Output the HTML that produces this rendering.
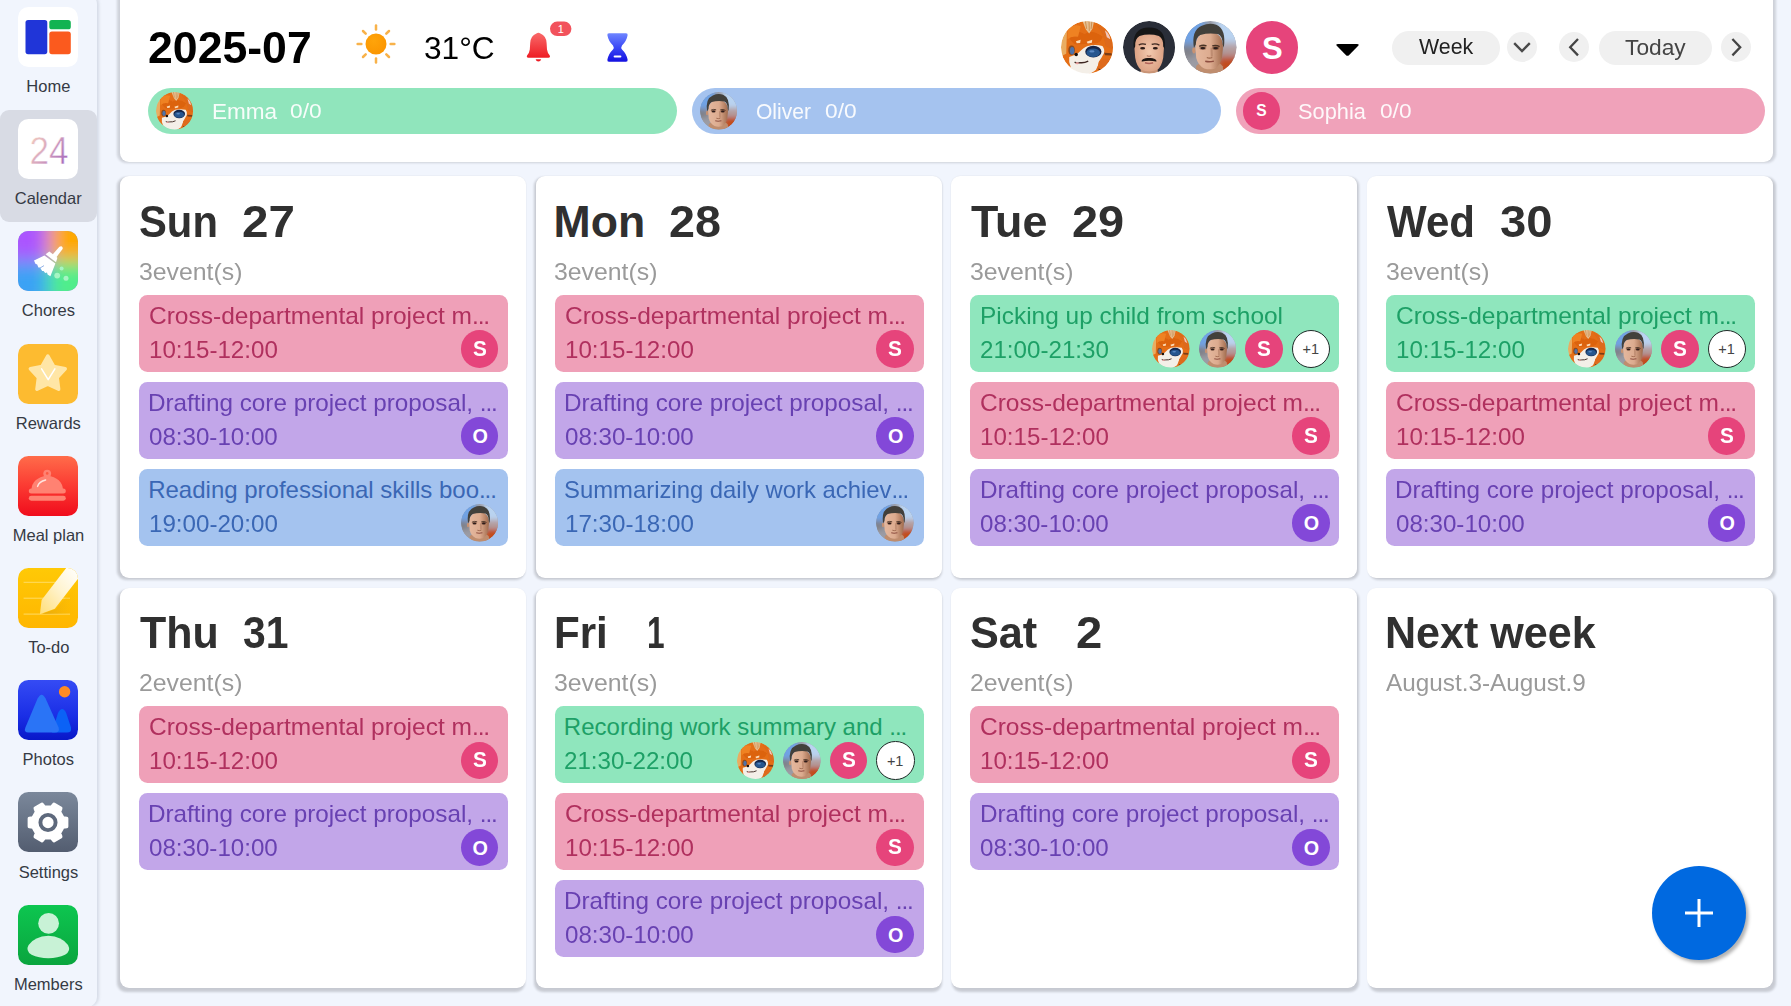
<!DOCTYPE html>
<html lang="en"><head><meta charset="utf-8"><title>Calendar</title>
<style>
html,body{margin:0;padding:0}
body{width:1791px;height:1006px;overflow:hidden;background:#f1f5fd;position:relative;font-family:"Liberation Sans",sans-serif}
.t{position:absolute;white-space:pre;transform-origin:0 0;display:block}
.abs,.av,.circ,.pill,.card,.ev,.bar,.ico,.side,.sel,.fab{position:absolute}
.side{left:-10px;top:-6px;width:107px;height:1013px;border-radius:0 10px 10px 0;background:#f1f5fd;box-shadow:1.5px 0 3px rgba(60,70,100,.14)}
.sel{left:0;top:109.7px;width:96.6px;height:112.4px;border-radius:9px;background:#d8dbe4}
.ico{left:18.3px;width:60px;height:60px;border-radius:10.5px;overflow:hidden}
.ico svg{display:block;width:60px;height:60px}
.card{background:#fff;border-radius:9px;box-shadow:0 0 1.5px rgba(20,20,40,.05)}
.sh{position:absolute;background:rgba(10,10,15,.175);filter:blur(1.3px)}
.av,.circ{border-radius:50%}
.pill{background:#f0f0f0;border-radius:17px}
.bar{top:87.8px;width:529px;height:46.4px;border-radius:23.2px}
.ev{width:369px;height:77px;border-radius:8.5px}
.fab{left:1652px;top:866px;width:94px;height:94px;border-radius:50%;background:#0069e0;box-shadow:2.5px 3px 3.5px rgba(0,0,0,.3)}

</style></head>
<body>
<svg width="0" height="0" style="position:absolute">
<defs>
<clipPath id="cc"><circle cx="20" cy="20" r="20"/></clipPath>
<radialGradient id="skin1" cx="50%" cy="45%" r="60%"><stop offset="0" stop-color="#f3c9ae"/><stop offset="1" stop-color="#d79a7c"/></radialGradient>
<linearGradient id="skin2" x1="0" x2="1" y1="0" y2="0"><stop offset="0" stop-color="#e5b89e"/><stop offset=".55" stop-color="#dcab8f"/><stop offset="1" stop-color="#a06a4c"/></linearGradient>
<linearGradient id="bg2" x1="0" x2="1" y1="0" y2="1"><stop offset="0" stop-color="#8fb0e0"/><stop offset=".45" stop-color="#a4a9b4"/><stop offset=".75" stop-color="#a8705a"/><stop offset="1" stop-color="#c4562a"/></linearGradient>
<filter id="b05" x="-10%" y="-10%" width="120%" height="120%"><feGaussianBlur stdDeviation=".45"/></filter>
<filter id="b3" x="-30%" y="-30%" width="160%" height="160%"><feGaussianBlur stdDeviation="3"/></filter>
<filter id="b1" x="-30%" y="-30%" width="160%" height="160%"><feGaussianBlur stdDeviation="1.1"/></filter>
<symbol id="fox" viewBox="0 0 40 40">
 <g clip-path="url(#cc)"><g filter="url(#b05)">
 <rect x="-2" y="-2" width="44" height="44" fill="#e46e16"/>
 <path d="M6 12 Q12 6 18 10 Q24 6 32 12 Q30 17 26 17 L12 18 Q8 17 6 12Z" fill="#d9600f" opacity=".8"/>
 <path d="M0 9 L4.5 8 L4 25 L0 27Z" fill="#e9ad62"/>
 <path d="M5 6 Q10 2 15 4 L13 12 Q8 11 5 14Z" fill="#ef8224"/>
 <path d="M16 -1 L25.5 -1 L24 6 L21.5 9.5 L19 6.5Z" fill="#e6bf92"/>
 <path d="M18.6 0 L19.6 6 M21.4 0 L21.6 7.5 M23.6 0 L23 6" stroke="#c98a4a" stroke-width=".7" fill="none"/>
 <path d="M27 3 Q34 5 38 13 L40 22 L34 19 Q33 10 27 3Z" fill="#dd6a1a"/>
 <path d="M33.5 7 Q37 9.5 37.6 14 L35 12.5Z" fill="#f1c7bc"/>
 <path d="M6.3 27.4 Q10 26.6 13.4 24.2 Q17 20.2 20.4 19 Q26 17.6 31.6 19 Q33.6 21.5 32.8 24.6 Q31 28 29 31 Q28.4 34.6 26.6 37.4 Q22.5 41 18 40.6 Q11 39.4 7.6 35.6 Q5.6 31.6 6.3 27.4Z" fill="#f4efe8"/>
 <path d="M29 31 Q33 28 37.6 29 Q38 34 34.4 37.4 Q30.6 38.4 27.4 36.4 Q28.6 34 29 31Z" fill="#de6a1c"/>
 <path d="M33 24.2 L38.6 24.6 L38.8 26.4 L33.6 26.2Z" fill="#7a3c14"/>
 <path d="M28.6 36.6 L32 38.2" stroke="#5a3016" stroke-width=".8"/>
 <ellipse cx="24.7" cy="23.4" rx="6.2" ry="4.5" fill="#16254a"/>
 <ellipse cx="24.6" cy="24.2" rx="5.2" ry="3.2" fill="#25578f"/>
 <ellipse cx="23.6" cy="23.2" rx="2" ry=".8" fill="#5c8ac6"/>
 <ellipse cx="8.1" cy="22.4" rx="2.5" ry="3.6" fill="#8a4a1e"/>
 <ellipse cx="8.5" cy="22.7" rx="1.7" ry="2.8" fill="#5072a8"/>
 <path d="M11.4 15.4 L15 14.4 L14.6 16.8 L12 17Z M19.6 15.8 L23.8 14.4 L23.6 16.6 L20.4 17.2Z" fill="#fddcb6"/>
 <circle cx="11.6" cy="25.5" r="1.35" fill="#17100e"/>
 <path d="M10.4 31.4 Q12.4 32.6 14.6 31.8 Q17.6 32.2 20.8 30.6" fill="none" stroke="#3c2620" stroke-width="1"/>
 <ellipse cx="12.4" cy="32.3" rx="1.3" ry=".8" fill="#e79a98"/>
 </g></g>
</symbol>
<symbol id="man1" viewBox="0 0 40 40">
 <g clip-path="url(#cc)"><g filter="url(#b05)">
 <rect x="-2" y="-2" width="44" height="44" fill="#2c2f38"/>
 <path d="M8.7 20 Q8.7 8.6 20 8.6 Q31.3 8.6 31.3 20 L30.7 28 Q29.6 34.6 26 37.6 L27 42 L13 42 L14 37.6 Q10.4 34.6 9.3 28Z" fill="url(#skin1)"/>
 <path d="M13.6 37.2 Q20 40 26.4 37.2 L27 42 L13 42Z" fill="#c99476"/>
 <path d="M8.2 21.4 Q6.4 5 20 5 Q33.6 5 31.8 21.4 L30.7 19.4 Q31 13.4 27.4 11.4 Q20 9.4 12.6 11.4 Q9 13.4 9.3 19.4Z" fill="#131519"/>
 <path d="M12 18.4 Q14.6 16.7 17.5 17.9 M21.9 17.9 Q24.8 16.7 27.8 18.4" stroke="#3a2620" stroke-width=".95" fill="none"/>
 <ellipse cx="15" cy="20.8" rx="1.9" ry=".95" fill="#2a1a16"/>
 <ellipse cx="24.7" cy="20.8" rx="1.9" ry=".95" fill="#2a1a16"/>
 <path d="M18.2 26.4 Q19.9 27.6 21.6 26.4" stroke="#b9806a" stroke-width="1" fill="none"/>
 <path d="M14.6 30.6 Q15.6 28.5 19.9 28.7 Q24.2 28.5 25.2 30.6 Q22.4 29.8 19.9 29.9 Q17.4 29.8 14.6 30.6Z" fill="#1c1412" stroke="#1c1412" stroke-width=".8" stroke-linejoin="round"/>
 <path d="M16.8 31.9 Q19.9 33 23 31.9" stroke="#b0645a" stroke-width="1.1" fill="none"/>
 </g></g>
</symbol>
<symbol id="man2" viewBox="0 0 40 40">
 <g clip-path="url(#cc)">
 <rect x="-2" y="-2" width="44" height="44" fill="#9a9aa2"/>
 <g filter="url(#b3)"><rect x="-6" y="-6" width="22" height="24" fill="#6fa2e4"/><rect x="24" y="-6" width="22" height="24" fill="#b9d3f0"/><rect x="28" y="17" width="16" height="9" fill="#b59c9c"/><rect x="-4" y="18" width="12" height="10" fill="#7f8088"/><rect x="26" y="27" width="20" height="18" fill="#c24c1c"/><rect x="-6" y="28" width="16" height="18" fill="#9c9ca4"/></g>
 <g filter="url(#b05)">
 <path d="M9.5 34 Q13 31 20 31 Q27 31 29.5 34.5 L31 42 L8 42Z" fill="#bf8d6e"/>
 <ellipse cx="7.6" cy="22.4" rx="1.3" ry="2.4" fill="#c89272"/>
 <path d="M8.7 21 Q8.4 8.6 19.4 8.6 Q30 8.6 29.7 21 L29 28 Q27.6 34 23.4 36.4 Q19.4 37.4 15.4 36.2 Q10.6 33.6 9.3 28Z" fill="url(#skin2)"/>
 <path d="M7.6 20.6 Q5.4 7 13.6 3.6 Q19 1.2 24.6 2.8 Q32.4 6 30.4 20.4 L29.5 18 Q29.6 11.8 26 10 Q19 8.8 12.4 10.6 Q9 12.6 9 18Z" fill="#433f3a"/>
 <path d="M11.6 19.4 Q14.4 17.9 17.2 19 M21.6 19 Q24.4 17.9 27.2 19.6" stroke="#4a3428" stroke-width="1" fill="none"/>
 <ellipse cx="14.4" cy="20.6" rx="2.6" ry="1.5" fill="#7a4a36" opacity=".55"/><ellipse cx="14.4" cy="20.7" rx="1.8" ry=".9" fill="#2e1f1a"/>
 <ellipse cx="24.2" cy="20.6" rx="2.6" ry="1.5" fill="#6a3e2c" opacity=".6"/><ellipse cx="24.2" cy="20.7" rx="1.8" ry=".9" fill="#2e1f1a"/>
 <path d="M21 20.4 L21.2 27.2" stroke="#8a583e" stroke-width="1.6" fill="none" opacity=".32"/>
 <path d="M17.4 27.9 Q19.4 28.8 21.6 27.9" stroke="#9a644a" stroke-width=".9" fill="none"/>
 <path d="M16.2 30.7 Q19.4 31.5 22.8 30.6" stroke="#8e4e40" stroke-width="1.1" fill="none"/>
 </g></g>
</symbol>
</defs>
</svg>
<div class="side"></div>
<div class="sel"></div>
<div class="ico i0" style="top:7.0px"><svg viewBox="0 0 60 60"><rect width="60" height="60" fill="#fff"/><rect x="7.5" y="13.1" width="21.8" height="34.1" rx="2.6" fill="#2035d8"/><rect x="31.3" y="13.1" width="21.5" height="9.2" rx="2.6" fill="#12b352"/><rect x="31.3" y="24.6" width="21.5" height="22.6" rx="2.6" fill="#fb5a1e"/></svg></div>
<span class="t" style="left:26.35px;top:78.00px;font-size:16.5px;line-height:16.5px;color:#353a44;">Home</span>
<div class="ico i1" style="top:119.2px"><svg viewBox="0 0 60 60"><defs><linearGradient id="g24" x1="0" x2="1" y1="0" y2=".75"><stop offset="0" stop-color="#f8d4c0"/><stop offset=".5" stop-color="#d9a8be"/><stop offset="1" stop-color="#a364bc"/></linearGradient></defs><rect width="60" height="60" fill="#fff"/><text x="31" y="44.6" text-anchor="middle" font-family="Liberation Sans, sans-serif" font-size="38" fill="url(#g24)" stroke="#fff" stroke-width=".5" textLength="39" lengthAdjust="spacingAndGlyphs">24</text></svg></div>
<span class="t" style="left:14.75px;top:190.00px;font-size:16.5px;line-height:16.5px;color:#353a44;">Calendar</span>
<div class="ico i2" style="top:231.4px"><svg viewBox="0 0 60 60"><defs><filter id="bl" x="-20%" y="-20%" width="140%" height="140%"><feGaussianBlur stdDeviation="9"/></filter><clipPath id="cq"><rect width="60" height="60"/></clipPath></defs>
<g clip-path="url(#cq)"><rect width="60" height="60" fill="#8a9ad0"/><g filter="url(#bl)"><rect x="-15" y="-15" width="45" height="45" fill="#ab55ff"/><rect x="30" y="-15" width="45" height="45" fill="#ffa800"/><rect x="30" y="30" width="45" height="45" fill="#50ee8a"/><rect x="-15" y="30" width="45" height="45" fill="#3aa2f5"/></g></g>
<g fill="#fff"><path d="M41.4 15.8 Q43.6 14.4 44.6 16.4 Q45 17.6 44.2 18.6 L38.2 26.4 L34.6 23.6Z"/><path d="M27.6 23.2 L31.4 20.6 L39.4 26.8 L38 31.2Z"/><path d="M26.4 24.4 L37.4 32.6 L32.4 45.2 L29.6 43.6 L29 41.6 L27.2 42 L25.6 40 L24.2 40 L22 36.6 L20.4 36.4 L19.2 33.6 L17.4 32.8 L16 29.4 Z"/></g>
<path d="M22 37 L26 34.6" stroke="#7aa0e0" stroke-width=".8"/>
<g fill="#a6f5c4"><circle cx="43.6" cy="37.4" r="2"/><circle cx="39.2" cy="44.6" r="2.9"/><circle cx="48" cy="47.2" r="2.5"/></g></svg></div>
<span class="t" style="left:21.80px;top:302.00px;font-size:16.5px;line-height:16.5px;color:#353a44;">Chores</span>
<div class="ico i3" style="top:343.6px"><svg viewBox="0 0 60 60"><rect width="60" height="60" fill="#fdbb30"/><path d="M29.8 12.1 L35.6 22.5 L47.2 24.7 L39.1 33.4 L40.6 45.2 L29.8 40.2 L19.0 45.2 L20.5 33.4 L12.4 24.7 L24.0 22.5Z" fill="#ffe6a6" stroke="#ffe6a6" stroke-width="3.6" stroke-linejoin="round"/><path d="M23.6 24.8 L30.2 35.6 L36.9 24.8" fill="none" stroke="#fff" stroke-width="1.5" stroke-linecap="round" stroke-linejoin="round"/></svg></div>
<span class="t" style="left:15.73px;top:415.00px;font-size:16.5px;line-height:16.5px;color:#353a44;">Rewards</span>
<div class="ico i4" style="top:455.8px"><svg viewBox="0 0 60 60"><defs><linearGradient id="gm" x1="0" x2="0" y1="0" y2="1"><stop offset="0" stop-color="#ff6c4a"/><stop offset=".5" stop-color="#fb3a32"/><stop offset="1" stop-color="#f00c1c"/></linearGradient></defs><rect width="60" height="60" fill="url(#gm)"/>
<g fill="#ff8272"><circle cx="29.2" cy="17.6" r="3.9"/><path d="M13.4 34 Q14 22 29.2 19.6 Q44.4 22 45 34Z"/><rect x="10.8" y="32.6" width="37" height="5" rx="2.5"/><rect x="10.8" y="39.8" width="37" height="4.9" rx="2.45"/></g><circle cx="29.2" cy="17.4" r="1.3" fill="#fc5a42"/>
<path d="M19.6 30.4 Q21 25.6 27.6 24" fill="none" stroke="#ffe4de" stroke-width="1.5" stroke-linecap="round"/></svg></div>
<span class="t" style="left:12.74px;top:527.00px;font-size:16.5px;line-height:16.5px;color:#353a44;">Meal plan</span>
<div class="ico i5" style="top:568.0px"><svg viewBox="0 0 60 60"><defs><linearGradient id="gt" x1="0" x2="0" y1="0" y2="1"><stop offset="0" stop-color="#ffc906"/><stop offset="1" stop-color="#ffb600"/></linearGradient><linearGradient id="gp" x1="1" x2="0" y1="0" y2="1"><stop offset="0" stop-color="#ffffff"/><stop offset=".45" stop-color="#fff4d2"/><stop offset="1" stop-color="#ffde78"/></linearGradient><linearGradient id="gs" x1="0" x2="1" y1="0" y2="0"><stop offset="0" stop-color="#dda412"/><stop offset="1" stop-color="#f5b400" stop-opacity="0"/></linearGradient></defs>
<rect width="60" height="60" fill="url(#gt)"/><path d="M5.6 14.3 H52 M5.6 30.2 H52 M5.6 46.1 H52" stroke="#ffe27c" stroke-width=".8"/>
<path d="M24 46 L38 41 L58 18 L58 46 Z" fill="url(#gs)" opacity=".75"/>
<path d="M21.9 46.3 L23.6 32 L48.2 0 L60 0 L60 10.8 L36.8 40.8 Z" fill="url(#gp)"/></svg></div>
<span class="t" style="left:28.19px;top:639.00px;font-size:16.5px;line-height:16.5px;color:#353a44;">To-do</span>
<div class="ico i6" style="top:680.2px"><svg viewBox="0 0 60 60"><defs><linearGradient id="gph" x1="0" x2="0" y1="0" y2="1"><stop offset="0" stop-color="#354bf4"/><stop offset=".6" stop-color="#1a2ee6"/><stop offset="1" stop-color="#0818c8"/></linearGradient></defs><rect width="60" height="60" fill="url(#gph)"/>
<circle cx="46.6" cy="11.7" r="5.7" fill="#ff8b22"/>
<path d="M40 33 Q44.2 25 48.2 33 L53 47.4 Q53.8 52.6 49 52.6 L34 52.6Z" fill="#0b62f6"/>
<path d="M19.6 18.6 Q23.6 11 27.6 18.6 L40.6 47.6 Q42 52.6 37 52.6 L10.6 52.6 Q5.4 52.6 7.4 47.6Z" fill="#2a74f6"/></svg></div>
<span class="t" style="left:22.61px;top:751.00px;font-size:16.5px;line-height:16.5px;color:#353a44;">Photos</span>
<div class="ico i7" style="top:792.4px"><svg viewBox="0 0 60 60"><defs><linearGradient id="gse" x1="0" x2="0" y1="0" y2="1"><stop offset="0" stop-color="#7b889b"/><stop offset="1" stop-color="#535d70"/></linearGradient></defs><rect width="60" height="60" fill="url(#gse)"/>
<path d="M44.89 25.83 L48.68 26.53 L48.68 34.47 L44.89 35.17 L41.48 41.06 L42.78 44.69 L35.90 48.67 L33.40 45.72 L26.60 45.72 L24.10 48.67 L17.22 44.69 L18.52 41.06 L15.11 35.17 L11.32 34.47 L11.32 26.53 L15.11 25.83 L18.52 19.94 L17.22 16.31 L24.10 12.33 L26.60 15.28 L33.40 15.28 L35.90 12.33 L42.78 16.31 L41.48 19.94Z" fill="#fff" stroke="#fff" stroke-width="3.4" stroke-linejoin="round"/><circle cx="30" cy="30.5" r="7.6" fill="none" stroke="#5e697c" stroke-width="3.9"/></svg></div>
<span class="t" style="left:18.65px;top:864.00px;font-size:16.5px;line-height:16.5px;color:#353a44;">Settings</span>
<div class="ico i8" style="top:904.6px"><svg viewBox="0 0 60 60"><defs><linearGradient id="gme" x1="0" x2="0" y1="0" y2="1"><stop offset="0" stop-color="#0dc650"/><stop offset="1" stop-color="#0aa53e"/></linearGradient></defs><rect width="60" height="60" fill="url(#gme)"/>
<circle cx="30.6" cy="18.4" r="10.4" fill="#c8f2d6"/><path d="M30.3 30.8 Q44 31.5 50 40 Q53.4 46 47 49.8 Q40 53.2 30.3 53.2 Q20.6 53.2 13.6 49.8 Q7.2 46 10.6 40 Q16.6 31.5 30.3 30.8Z" fill="#c8f2d6"/></svg></div>
<span class="t" style="left:13.91px;top:976.00px;font-size:16.5px;line-height:16.5px;color:#353a44;">Members</span>
<div class="sh" style="left:117.21px;top:-14.05px;width:1659.25px;height:176.63px;border-radius:9px;background:rgba(10,10,15,.14)"></div>
<div class="card" style="left:120.00px;top:-14.00px;width:1653.30px;height:176.00px;border-radius:9px"></div>
<span class="t" style="left:147.94px;top:26.00px;font-size:44px;line-height:44px;color:#000;font-weight:700;transform:scaleX(1.0140);">2025-07</span>
<svg class="abs" style="left:354px;top:22px;width:44px;height:44px" viewBox="-22 -22 44 44"><defs><radialGradient id="gsu" cx="40%" cy="35%" r="70%"><stop offset="0" stop-color="#ffa40a"/><stop offset="1" stop-color="#fb9500"/></radialGradient></defs><circle r="10.5" fill="url(#gsu)"/><g stroke="#f8b24a" stroke-width="2.5" stroke-linecap="round"><path d="M0 -14.6 V-18.4"/><path d="M0 14.6 V18.4"/><path d="M-14.6 0 H-18.4"/><path d="M14.6 0 H18.4"/><path d="M10.3 -10.3 L13 -13"/><path d="M-10.3 -10.3 L-13 -13"/><path d="M10.3 10.3 L13 13"/><path d="M-10.3 10.3 L-13 13"/></g></svg>
<span class="t" style="left:423.50px;top:33.00px;font-size:31px;line-height:31px;color:#000;transform:scaleX(1.0207);">31°C</span>
<svg class="abs" style="left:522px;top:18px;width:54px;height:48px" viewBox="0 0 54 48"><defs><linearGradient id="gbe" x1="0" x2="0" y1="0" y2="1"><stop offset="0" stop-color="#f96a6a"/><stop offset="1" stop-color="#ee1c24"/></linearGradient></defs>
<path d="M14.4 15.6 Q16.4 14 18.4 15.6 Q24.2 18 24.6 25 L25 31.6 Q25.4 34.8 27.6 37.2 Q28.8 39.6 26.4 39.8 L6.4 39.8 Q4 39.6 5.2 37.2 Q7.4 34.8 7.8 31.6 L8.2 25 Q8.6 18 14.4 15.6Z" fill="url(#gbe)"/><path d="M13.6 41.2 H19.2 Q18.6 43.6 16.4 43.6 Q14.2 43.6 13.6 41.2Z" fill="#ec1c24"/>
<rect x="28" y="3.6" width="21.4" height="14.4" rx="7.2" fill="#f2525c"/><text x="38.8" y="14.6" text-anchor="middle" font-family="Liberation Sans, sans-serif" font-size="11" fill="#fff">1</text></svg>
<svg class="abs" style="left:603px;top:30px;width:30px;height:36px" viewBox="0 0 30 36"><defs><linearGradient id="gho" x1="0" x2="0" y1="0" y2="1"><stop offset="0" stop-color="#6f86ff"/><stop offset=".5" stop-color="#3a48f6"/><stop offset="1" stop-color="#1410e0"/></linearGradient></defs>
<path d="M6 3.2 H23 Q25 3.2 24.6 5.2 Q23.6 11 19 15.4 Q17.6 17.4 19 19.4 Q23.6 23.8 24.6 29.6 Q25 31.8 23 31.8 H6 Q4 31.8 4.4 29.6 Q5.4 23.8 10 19.4 Q11.4 17.4 10 15.4 Q5.4 11 4.4 5.2 Q4 3.2 6 3.2Z" fill="url(#gho)"/><rect x="10.6" y="25.6" width="7.8" height="2" rx="1" fill="#fff"/></svg>
<svg class="av" style="left:1060.8px;top:21.3px;width:52.4px;height:52.4px" viewBox="0 0 40 40"><use href="#fox"/></svg>
<svg class="av" style="left:1122.8px;top:21.3px;width:52.4px;height:52.4px" viewBox="0 0 40 40"><use href="#man1"/></svg>
<svg class="av" style="left:1184.3px;top:21.3px;width:52.4px;height:52.4px" viewBox="0 0 40 40"><use href="#man2"/></svg>
<div class="circ" style="left:1246.0px;top:21.3px;width:52.4px;height:52.4px;background:#e6447b"></div>
<span class="t" style="left:1261.93px;top:33.00px;font-size:31px;line-height:31px;color:#fff;font-weight:700;">S</span>
<svg class="abs" style="left:1335px;top:43px;width:25px;height:15px" viewBox="0 0 25 15"><path d="M3 1 H22 Q24.8 1 23 3 L14.2 12 Q12.5 13.7 10.8 12 L2 3 Q0.2 1 3 1Z" fill="#000"/></svg>
<div class="pill" style="left:1392px;top:30.6px;width:108px;height:34px"></div>
<span class="t" style="left:1419.14px;top:36.00px;font-size:22px;line-height:22px;color:#222;transform:scaleX(0.9721);">Week</span>
<div class="pill" style="left:1507px;top:32.3px;width:30px;height:30px"></div>
<svg class="abs" style="left:1507px;top:32.3px;width:30px;height:30px" viewBox="0 0 30 30"><path d="M7.2 11.2 L15 19 L22.8 11.2" fill="none" stroke="#4a4a4a" stroke-width="2.4"/></svg>
<div class="pill" style="left:1559.3px;top:32.3px;width:30px;height:30px"></div>
<svg class="abs" style="left:1559.3px;top:32.3px;width:30px;height:30px" viewBox="0 0 30 30"><path d="M19 7 L11.2 15.2 L19 23.4" fill="none" stroke="#444" stroke-width="2.3"/></svg>
<div class="pill" style="left:1599px;top:30.6px;width:113px;height:34px"></div>
<span class="t" style="left:1625.27px;top:37.00px;font-size:22px;line-height:22px;color:#444;transform:scaleX(1.0345);">Today</span>
<div class="pill" style="left:1720.5px;top:32.3px;width:30px;height:30px"></div>
<svg class="abs" style="left:1720.5px;top:32.3px;width:30px;height:30px" viewBox="0 0 30 30"><path d="M11.4 7 L19.2 15.2 L11.4 23.4" fill="none" stroke="#444" stroke-width="2.3"/></svg>
<div class="bar" style="left:148.0px;background:#90e5bc"></div>
<svg class="av" style="left:155.7px;top:92.3px;width:37.6px;height:37.6px" viewBox="0 0 40 40"><use href="#fox"/></svg>
<span class="t" style="left:211.64px;top:101.00px;font-size:22px;line-height:22px;color:#fff;transform:scaleX(1.0247);opacity:.93">Emma</span>
<span class="t" style="left:289.97px;top:101.00px;font-size:20.5px;line-height:20.5px;color:#fff;transform:scaleX(1.1089);opacity:.93">0/0</span>
<div class="bar" style="left:692.0px;background:#a5c3ef"></div>
<svg class="av" style="left:699.7px;top:92.3px;width:37.6px;height:37.6px" viewBox="0 0 40 40"><use href="#man2"/></svg>
<span class="t" style="left:755.95px;top:101.00px;font-size:22px;line-height:22px;color:#fff;transform:scaleX(0.9559);opacity:.93">Oliver</span>
<span class="t" style="left:825.47px;top:101.00px;font-size:20.5px;line-height:20.5px;color:#fff;transform:scaleX(1.1089);opacity:.93">0/0</span>
<div class="bar" style="left:1235.6px;background:#f0a2ba"></div>
<div class="circ" style="left:1242.8px;top:92.3px;width:37.6px;height:37.6px;background:#e6447b"></div>
<span class="t" style="left:1256.37px;top:103.00px;font-size:15.6px;line-height:15.6px;color:#fff;font-weight:700;">S</span>
<span class="t" style="left:1298.05px;top:101.00px;font-size:22px;line-height:22px;color:#fff;transform:scaleX(0.9907);opacity:.93">Sophia</span>
<span class="t" style="left:1380.08px;top:101.00px;font-size:20.5px;line-height:20.5px;color:#fff;transform:scaleX(1.1051);opacity:.93">0/0</span>
<div class="sh" style="left:117.21px;top:176.63px;width:407.46px;height:403.45px;border-radius:9px"></div>
<div class="card" style="left:120.00px;top:176.00px;width:406.00px;height:402.00px;border-radius:9px"></div>
<span class="t" style="left:139.09px;top:200.00px;font-size:44.6px;line-height:44.6px;color:#303030;font-weight:700;transform:scaleX(0.9367);">Sun</span>
<span class="t" style="left:242.24px;top:200.00px;font-size:44.6px;line-height:44.6px;color:#303030;font-weight:700;transform:scaleX(1.0668);">27</span>
<span class="t" style="left:138.72px;top:260.00px;font-size:24px;line-height:24px;color:#9a9a9a;transform:scaleX(1.0338);">3event(s)</span>
<div class="ev" style="left:139.00px;top:295.0px;background:#efa0b8"></div>
<span class="t" style="left:148.91px;top:304.00px;font-size:24px;line-height:24px;color:#b0305e;transform:scaleX(1.0216);">Cross-departmental project m<span style="letter-spacing:-1.1px">...</span></span>
<span class="t" style="left:148.86px;top:339.00px;font-size:23.5px;line-height:23.5px;color:#b0305e;transform:scaleX(1.0271);">10:15-12:00</span>
<div class="circ" style="left:460.70px;top:330.3px;width:37.6px;height:37.6px;background:#e6447b"></div>
<span class="t" style="left:472.70px;top:338.00px;font-size:21.2px;line-height:21.2px;color:#fff;font-weight:700;transform:scaleX(0.9800);">S</span>
<div class="ev" style="left:139.00px;top:382.0px;background:#c2a6e9"></div>
<span class="t" style="left:148.18px;top:391.00px;font-size:24px;line-height:24px;color:#6841b2;transform:scaleX(1.0111);">Drafting core project proposal, <span style="letter-spacing:-1.1px">...</span></span>
<span class="t" style="left:148.97px;top:426.00px;font-size:23.5px;line-height:23.5px;color:#6841b2;transform:scaleX(1.0262);">08:30-10:00</span>
<div class="circ" style="left:460.70px;top:417.3px;width:37.6px;height:37.6px;background:#8348d8"></div>
<span class="t" style="left:472.41px;top:427.00px;font-size:19.8px;line-height:19.8px;color:#fff;font-weight:700;">O</span>
<div class="ev" style="left:139.00px;top:469.0px;background:#a4c3ef"></div>
<span class="t" style="left:148.20px;top:478.00px;font-size:24px;line-height:24px;color:#3a67b5;">Reading professional skills boo<span style="letter-spacing:-1.1px">...</span></span>
<span class="t" style="left:148.86px;top:513.00px;font-size:23.5px;line-height:23.5px;color:#3a67b5;transform:scaleX(1.0271);">19:00-20:00</span>
<svg class="av" style="left:460.70px;top:504.3px;width:37.6px;height:37.6px" viewBox="0 0 40 40"><use href="#man2"/></svg>
<div class="sh" style="left:534.37px;top:176.63px;width:407.46px;height:403.45px;border-radius:9px"></div>
<div class="card" style="left:535.67px;top:176.00px;width:406.00px;height:402.00px;border-radius:9px"></div>
<span class="t" style="left:553.57px;top:200.00px;font-size:44.6px;line-height:44.6px;color:#303030;font-weight:700;">Mon</span>
<span class="t" style="left:669.14px;top:200.00px;font-size:44.6px;line-height:44.6px;color:#303030;font-weight:700;transform:scaleX(1.0479);">28</span>
<span class="t" style="left:554.39px;top:260.00px;font-size:24px;line-height:24px;color:#9a9a9a;transform:scaleX(1.0338);">3event(s)</span>
<div class="ev" style="left:554.67px;top:295.0px;background:#efa0b8"></div>
<span class="t" style="left:564.58px;top:304.00px;font-size:24px;line-height:24px;color:#b0305e;transform:scaleX(1.0216);">Cross-departmental project m<span style="letter-spacing:-1.1px">...</span></span>
<span class="t" style="left:564.53px;top:339.00px;font-size:23.5px;line-height:23.5px;color:#b0305e;transform:scaleX(1.0271);">10:15-12:00</span>
<div class="circ" style="left:876.37px;top:330.3px;width:37.6px;height:37.6px;background:#e6447b"></div>
<span class="t" style="left:888.37px;top:338.00px;font-size:21.2px;line-height:21.2px;color:#fff;font-weight:700;transform:scaleX(0.9800);">S</span>
<div class="ev" style="left:554.67px;top:382.0px;background:#c2a6e9"></div>
<span class="t" style="left:563.85px;top:391.00px;font-size:24px;line-height:24px;color:#6841b2;transform:scaleX(1.0111);">Drafting core project proposal, <span style="letter-spacing:-1.1px">...</span></span>
<span class="t" style="left:564.64px;top:426.00px;font-size:23.5px;line-height:23.5px;color:#6841b2;transform:scaleX(1.0262);">08:30-10:00</span>
<div class="circ" style="left:876.37px;top:417.3px;width:37.6px;height:37.6px;background:#8348d8"></div>
<span class="t" style="left:888.08px;top:427.00px;font-size:19.8px;line-height:19.8px;color:#fff;font-weight:700;">O</span>
<div class="ev" style="left:554.67px;top:469.0px;background:#a4c3ef"></div>
<span class="t" style="left:564.44px;top:478.00px;font-size:24px;line-height:24px;color:#3a67b5;transform:scaleX(0.9940);">Summarizing daily work achiev<span style="letter-spacing:-1.1px">...</span></span>
<span class="t" style="left:564.53px;top:513.00px;font-size:23.5px;line-height:23.5px;color:#3a67b5;transform:scaleX(1.0271);">17:30-18:00</span>
<svg class="av" style="left:876.37px;top:504.3px;width:37.6px;height:37.6px" viewBox="0 0 40 40"><use href="#man2"/></svg>
<div class="sh" style="left:951.54px;top:176.63px;width:407.46px;height:403.45px;border-radius:9px"></div>
<div class="card" style="left:951.34px;top:176.00px;width:406.00px;height:402.00px;border-radius:9px"></div>
<span class="t" style="left:970.53px;top:200.00px;font-size:44.6px;line-height:44.6px;color:#303030;font-weight:700;transform:scaleX(1.0047);">Tue</span>
<span class="t" style="left:1071.71px;top:200.00px;font-size:44.6px;line-height:44.6px;color:#303030;font-weight:700;transform:scaleX(1.0521);">29</span>
<span class="t" style="left:970.06px;top:260.00px;font-size:24px;line-height:24px;color:#9a9a9a;transform:scaleX(1.0338);">3event(s)</span>
<div class="ev" style="left:970.34px;top:295.0px;background:#8fe6bd"></div>
<span class="t" style="left:979.50px;top:304.00px;font-size:24px;line-height:24px;color:#1da066;transform:scaleX(1.0187);">Picking up child from school</span>
<span class="t" style="left:980.10px;top:339.00px;font-size:23.5px;line-height:23.5px;color:#1da066;transform:scaleX(1.0279);">21:00-21:30</span>
<svg class="av" style="left:1152.24px;top:330.3px;width:37.6px;height:37.6px" viewBox="0 0 40 40"><use href="#fox"/></svg>
<svg class="av" style="left:1198.84px;top:330.3px;width:37.6px;height:37.6px" viewBox="0 0 40 40"><use href="#man2"/></svg>
<div class="circ" style="left:1245.44px;top:330.3px;width:37.6px;height:37.6px;background:#e6447b"></div>
<span class="t" style="left:1257.44px;top:338.00px;font-size:21.2px;line-height:21.2px;color:#fff;font-weight:700;transform:scaleX(0.9800);">S</span>
<div class="circ" style="left:1291.84px;top:329.8px;width:38.6px;height:38.6px;background:#fff;box-sizing:border-box;border:1.9px solid #1f2a28"></div>
<span class="t" style="left:1302.57px;top:342.00px;font-size:14.5px;line-height:14.5px;color:#444;">+1</span>
<div class="ev" style="left:970.34px;top:382.0px;background:#efa0b8"></div>
<span class="t" style="left:980.25px;top:391.00px;font-size:24px;line-height:24px;color:#b0305e;transform:scaleX(1.0216);">Cross-departmental project m<span style="letter-spacing:-1.1px">...</span></span>
<span class="t" style="left:980.20px;top:426.00px;font-size:23.5px;line-height:23.5px;color:#b0305e;transform:scaleX(1.0271);">10:15-12:00</span>
<div class="circ" style="left:1292.04px;top:417.3px;width:37.6px;height:37.6px;background:#e6447b"></div>
<span class="t" style="left:1304.04px;top:425.00px;font-size:21.2px;line-height:21.2px;color:#fff;font-weight:700;transform:scaleX(0.9800);">S</span>
<div class="ev" style="left:970.34px;top:469.0px;background:#c2a6e9"></div>
<span class="t" style="left:979.52px;top:478.00px;font-size:24px;line-height:24px;color:#6841b2;transform:scaleX(1.0111);">Drafting core project proposal, <span style="letter-spacing:-1.1px">...</span></span>
<span class="t" style="left:980.31px;top:513.00px;font-size:23.5px;line-height:23.5px;color:#6841b2;transform:scaleX(1.0262);">08:30-10:00</span>
<div class="circ" style="left:1292.04px;top:504.3px;width:37.6px;height:37.6px;background:#8348d8"></div>
<span class="t" style="left:1303.75px;top:514.00px;font-size:19.8px;line-height:19.8px;color:#fff;font-weight:700;">O</span>
<div class="sh" style="left:1368.71px;top:176.63px;width:407.46px;height:403.45px;border-radius:9px"></div>
<div class="card" style="left:1367.01px;top:176.00px;width:406.00px;height:402.00px;border-radius:9px"></div>
<span class="t" style="left:1386.63px;top:200.00px;font-size:44.6px;line-height:44.6px;color:#303030;font-weight:700;transform:scaleX(0.9427);">Wed</span>
<span class="t" style="left:1499.56px;top:200.00px;font-size:44.6px;line-height:44.6px;color:#303030;font-weight:700;transform:scaleX(1.0579);">30</span>
<span class="t" style="left:1385.73px;top:260.00px;font-size:24px;line-height:24px;color:#9a9a9a;transform:scaleX(1.0338);">3event(s)</span>
<div class="ev" style="left:1386.01px;top:295.0px;background:#8fe6bd"></div>
<span class="t" style="left:1395.92px;top:304.00px;font-size:24px;line-height:24px;color:#1da066;transform:scaleX(1.0216);">Cross-departmental project m<span style="letter-spacing:-1.1px">...</span></span>
<span class="t" style="left:1395.87px;top:339.00px;font-size:23.5px;line-height:23.5px;color:#1da066;transform:scaleX(1.0271);">10:15-12:00</span>
<svg class="av" style="left:1567.91px;top:330.3px;width:37.6px;height:37.6px" viewBox="0 0 40 40"><use href="#fox"/></svg>
<svg class="av" style="left:1614.51px;top:330.3px;width:37.6px;height:37.6px" viewBox="0 0 40 40"><use href="#man2"/></svg>
<div class="circ" style="left:1661.11px;top:330.3px;width:37.6px;height:37.6px;background:#e6447b"></div>
<span class="t" style="left:1673.11px;top:338.00px;font-size:21.2px;line-height:21.2px;color:#fff;font-weight:700;transform:scaleX(0.9800);">S</span>
<div class="circ" style="left:1707.51px;top:329.8px;width:38.6px;height:38.6px;background:#fff;box-sizing:border-box;border:1.9px solid #1f2a28"></div>
<span class="t" style="left:1718.24px;top:342.00px;font-size:14.5px;line-height:14.5px;color:#444;">+1</span>
<div class="ev" style="left:1386.01px;top:382.0px;background:#efa0b8"></div>
<span class="t" style="left:1395.92px;top:391.00px;font-size:24px;line-height:24px;color:#b0305e;transform:scaleX(1.0216);">Cross-departmental project m<span style="letter-spacing:-1.1px">...</span></span>
<span class="t" style="left:1395.87px;top:426.00px;font-size:23.5px;line-height:23.5px;color:#b0305e;transform:scaleX(1.0271);">10:15-12:00</span>
<div class="circ" style="left:1707.71px;top:417.3px;width:37.6px;height:37.6px;background:#e6447b"></div>
<span class="t" style="left:1719.71px;top:425.00px;font-size:21.2px;line-height:21.2px;color:#fff;font-weight:700;transform:scaleX(0.9800);">S</span>
<div class="ev" style="left:1386.01px;top:469.0px;background:#c2a6e9"></div>
<span class="t" style="left:1395.19px;top:478.00px;font-size:24px;line-height:24px;color:#6841b2;transform:scaleX(1.0111);">Drafting core project proposal, <span style="letter-spacing:-1.1px">...</span></span>
<span class="t" style="left:1395.98px;top:513.00px;font-size:23.5px;line-height:23.5px;color:#6841b2;transform:scaleX(1.0262);">08:30-10:00</span>
<div class="circ" style="left:1707.71px;top:504.3px;width:37.6px;height:37.6px;background:#8348d8"></div>
<span class="t" style="left:1719.42px;top:514.00px;font-size:19.8px;line-height:19.8px;color:#fff;font-weight:700;">O</span>
<div class="sh" style="left:117.21px;top:590.12px;width:407.46px;height:401.44px;border-radius:9px"></div>
<div class="card" style="left:120.00px;top:588.00px;width:406.00px;height:400.00px;border-radius:9px"></div>
<span class="t" style="left:139.61px;top:611.00px;font-size:44.6px;line-height:44.6px;color:#303030;font-weight:700;transform:scaleX(0.9627);">Thu</span>
<span class="t" style="left:242.92px;top:611.00px;font-size:44.6px;line-height:44.6px;color:#303030;font-weight:700;transform:scaleX(0.9166);">31</span>
<span class="t" style="left:138.74px;top:671.00px;font-size:24px;line-height:24px;color:#9a9a9a;transform:scaleX(1.0337);">2event(s)</span>
<div class="ev" style="left:139.00px;top:706.3px;background:#efa0b8"></div>
<span class="t" style="left:148.91px;top:715.00px;font-size:24px;line-height:24px;color:#b0305e;transform:scaleX(1.0216);">Cross-departmental project m<span style="letter-spacing:-1.1px">...</span></span>
<span class="t" style="left:148.86px;top:750.00px;font-size:23.5px;line-height:23.5px;color:#b0305e;transform:scaleX(1.0271);">10:15-12:00</span>
<div class="circ" style="left:460.70px;top:741.6px;width:37.6px;height:37.6px;background:#e6447b"></div>
<span class="t" style="left:472.70px;top:749.00px;font-size:21.2px;line-height:21.2px;color:#fff;font-weight:700;transform:scaleX(0.9800);">S</span>
<div class="ev" style="left:139.00px;top:793.3px;background:#c2a6e9"></div>
<span class="t" style="left:148.18px;top:802.00px;font-size:24px;line-height:24px;color:#6841b2;transform:scaleX(1.0111);">Drafting core project proposal, <span style="letter-spacing:-1.1px">...</span></span>
<span class="t" style="left:148.97px;top:837.00px;font-size:23.5px;line-height:23.5px;color:#6841b2;transform:scaleX(1.0262);">08:30-10:00</span>
<div class="circ" style="left:460.70px;top:828.6px;width:37.6px;height:37.6px;background:#8348d8"></div>
<span class="t" style="left:472.41px;top:839.00px;font-size:19.8px;line-height:19.8px;color:#fff;font-weight:700;">O</span>
<div class="sh" style="left:534.37px;top:590.12px;width:407.46px;height:401.44px;border-radius:9px"></div>
<div class="card" style="left:535.67px;top:588.00px;width:406.00px;height:400.00px;border-radius:9px"></div>
<span class="t" style="left:553.84px;top:611.00px;font-size:44.6px;line-height:44.6px;color:#303030;font-weight:700;transform:scaleX(0.9444);">Fri</span>
<span class="t" style="left:647.38px;top:611.00px;font-size:44.6px;line-height:44.6px;color:#303030;font-weight:700;transform:scaleX(0.7087);">1</span>
<span class="t" style="left:554.39px;top:671.00px;font-size:24px;line-height:24px;color:#9a9a9a;transform:scaleX(1.0338);">3event(s)</span>
<div class="ev" style="left:554.67px;top:706.3px;background:#8fe6bd"></div>
<span class="t" style="left:563.87px;top:715.00px;font-size:24px;line-height:24px;color:#1da066;">Recording work summary and <span style="letter-spacing:-1.1px">...</span></span>
<span class="t" style="left:564.43px;top:750.00px;font-size:23.5px;line-height:23.5px;color:#1da066;transform:scaleX(1.0279);">21:30-22:00</span>
<svg class="av" style="left:736.57px;top:741.6px;width:37.6px;height:37.6px" viewBox="0 0 40 40"><use href="#fox"/></svg>
<svg class="av" style="left:783.17px;top:741.6px;width:37.6px;height:37.6px" viewBox="0 0 40 40"><use href="#man2"/></svg>
<div class="circ" style="left:829.77px;top:741.6px;width:37.6px;height:37.6px;background:#e6447b"></div>
<span class="t" style="left:841.77px;top:749.00px;font-size:21.2px;line-height:21.2px;color:#fff;font-weight:700;transform:scaleX(0.9800);">S</span>
<div class="circ" style="left:876.17px;top:741.1px;width:38.6px;height:38.6px;background:#fff;box-sizing:border-box;border:1.9px solid #1f2a28"></div>
<span class="t" style="left:886.90px;top:754.00px;font-size:14.5px;line-height:14.5px;color:#444;">+1</span>
<div class="ev" style="left:554.67px;top:793.3px;background:#efa0b8"></div>
<span class="t" style="left:564.58px;top:802.00px;font-size:24px;line-height:24px;color:#b0305e;transform:scaleX(1.0216);">Cross-departmental project m<span style="letter-spacing:-1.1px">...</span></span>
<span class="t" style="left:564.53px;top:837.00px;font-size:23.5px;line-height:23.5px;color:#b0305e;transform:scaleX(1.0271);">10:15-12:00</span>
<div class="circ" style="left:876.37px;top:828.6px;width:37.6px;height:37.6px;background:#e6447b"></div>
<span class="t" style="left:888.37px;top:836.00px;font-size:21.2px;line-height:21.2px;color:#fff;font-weight:700;transform:scaleX(0.9800);">S</span>
<div class="ev" style="left:554.67px;top:880.3px;background:#c2a6e9"></div>
<span class="t" style="left:563.85px;top:889.00px;font-size:24px;line-height:24px;color:#6841b2;transform:scaleX(1.0111);">Drafting core project proposal, <span style="letter-spacing:-1.1px">...</span></span>
<span class="t" style="left:564.64px;top:924.00px;font-size:23.5px;line-height:23.5px;color:#6841b2;transform:scaleX(1.0262);">08:30-10:00</span>
<div class="circ" style="left:876.37px;top:915.6px;width:37.6px;height:37.6px;background:#8348d8"></div>
<span class="t" style="left:888.08px;top:926.00px;font-size:19.8px;line-height:19.8px;color:#fff;font-weight:700;">O</span>
<div class="sh" style="left:951.54px;top:590.12px;width:407.46px;height:401.44px;border-radius:9px"></div>
<div class="card" style="left:951.34px;top:588.00px;width:406.00px;height:400.00px;border-radius:9px"></div>
<span class="t" style="left:970.18px;top:611.00px;font-size:44.6px;line-height:44.6px;color:#303030;font-weight:700;transform:scaleX(0.9690);">Sat</span>
<span class="t" style="left:1075.70px;top:611.00px;font-size:44.6px;line-height:44.6px;color:#303030;font-weight:700;transform:scaleX(1.0584);">2</span>
<span class="t" style="left:970.08px;top:671.00px;font-size:24px;line-height:24px;color:#9a9a9a;transform:scaleX(1.0337);">2event(s)</span>
<div class="ev" style="left:970.34px;top:706.3px;background:#efa0b8"></div>
<span class="t" style="left:980.25px;top:715.00px;font-size:24px;line-height:24px;color:#b0305e;transform:scaleX(1.0216);">Cross-departmental project m<span style="letter-spacing:-1.1px">...</span></span>
<span class="t" style="left:980.20px;top:750.00px;font-size:23.5px;line-height:23.5px;color:#b0305e;transform:scaleX(1.0271);">10:15-12:00</span>
<div class="circ" style="left:1292.04px;top:741.6px;width:37.6px;height:37.6px;background:#e6447b"></div>
<span class="t" style="left:1304.04px;top:749.00px;font-size:21.2px;line-height:21.2px;color:#fff;font-weight:700;transform:scaleX(0.9800);">S</span>
<div class="ev" style="left:970.34px;top:793.3px;background:#c2a6e9"></div>
<span class="t" style="left:979.52px;top:802.00px;font-size:24px;line-height:24px;color:#6841b2;transform:scaleX(1.0111);">Drafting core project proposal, <span style="letter-spacing:-1.1px">...</span></span>
<span class="t" style="left:980.31px;top:837.00px;font-size:23.5px;line-height:23.5px;color:#6841b2;transform:scaleX(1.0262);">08:30-10:00</span>
<div class="circ" style="left:1292.04px;top:828.6px;width:37.6px;height:37.6px;background:#8348d8"></div>
<span class="t" style="left:1303.75px;top:839.00px;font-size:19.8px;line-height:19.8px;color:#fff;font-weight:700;">O</span>
<div class="sh" style="left:1368.71px;top:590.12px;width:407.46px;height:401.44px;border-radius:9px"></div>
<div class="card" style="left:1367.01px;top:588.00px;width:406.00px;height:400.00px;border-radius:9px"></div>
<span class="t" style="left:1385.11px;top:611.00px;font-size:44.6px;line-height:44.6px;color:#303030;font-weight:700;transform:scaleX(0.9657);">Next week</span>
<span class="t" style="left:1386.14px;top:671.00px;font-size:24px;line-height:24px;color:#9a9a9a;transform:scaleX(1.0122);">August.3-August.9</span>
<div class="fab"></div>
<svg class="abs" style="left:1652px;top:866px;width:94px;height:94px" viewBox="0 0 94 94"><path d="M47 33 V61 M33 47 H61" stroke="#fff" stroke-width="3" fill="none"/></svg>
</body></html>
